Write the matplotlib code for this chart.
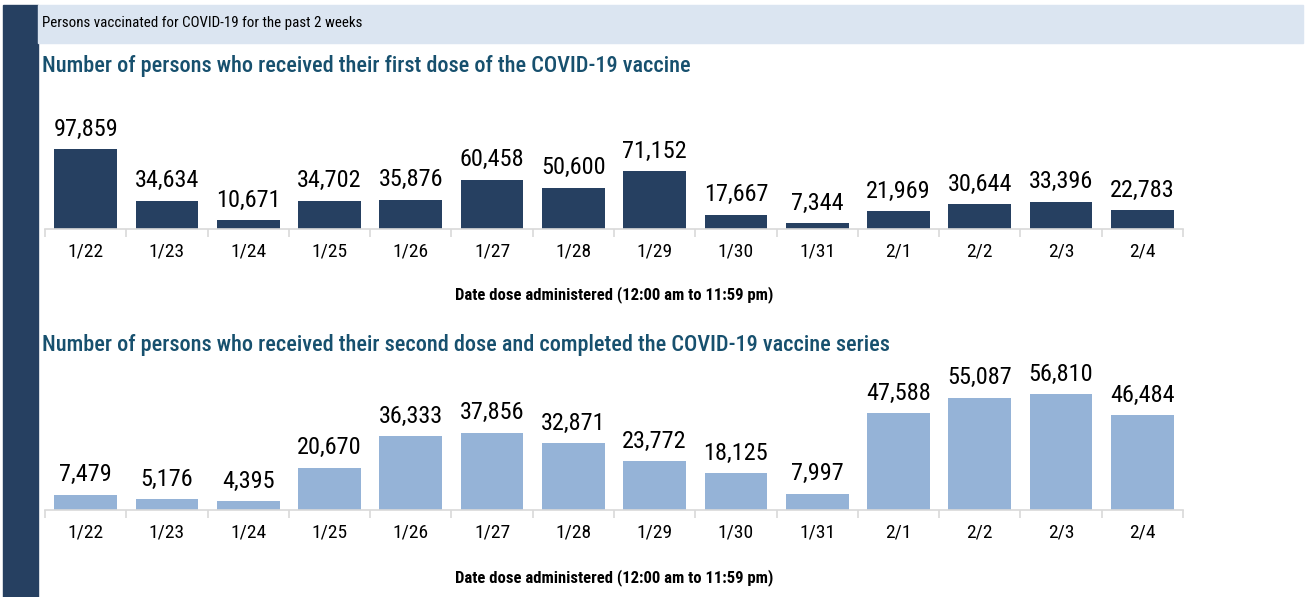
import matplotlib
matplotlib.use("Agg")
import matplotlib.pyplot as plt
from matplotlib import font_manager
from matplotlib.patches import Rectangle
import numpy as np

dates = ["1/22", "1/23", "1/24", "1/25", "1/26", "1/27", "1/28", "1/29",
         "1/30", "1/31", "2/1", "2/2", "2/3", "2/4"]
first_dose = [97859, 34634, 10671, 34702, 35876, 60458, 50600, 71152,
              17667, 7344, 21969, 30644, 33396, 22783]
second_dose = [7479, 5176, 4395, 20670, 36333, 37856, 32871, 23772,
               18125, 7997, 47588, 55087, 56810, 46484]

header = "Persons vaccinated for COVID-19 for the past 2 weeks"
title1 = "Number of persons who received their first dose of the COVID-19 vaccine"
title2 = "Number of persons who received their second dose and completed the COVID-19 vaccine series"
xlabel = "Date dose administered (12:00 am to 11:59 pm)"

names = {f.name for f in font_manager.fontManager.ttflist}
main_font = "DejaVu Sans"
for cand in ["Roboto Condensed", "Liberation Sans Narrow", "Liberation Sans", "Arimo"]:
    if cand in names:
        main_font = cand
        break
plt.rcParams['font.family'] = [main_font, 'DejaVu Sans']

W, H = 1307, 597
fig = plt.figure(figsize=(W / 100, H / 100), dpi=100)

def fx(px):
    return px / W

def fy(py):
    return 1 - py / H

# left navy band and header band
fig.patches.append(Rectangle((fx(3), 0), fx(35), fy(5), transform=fig.transFigure,
                             color="#264061", zorder=0))
fig.patches.append(Rectangle((fx(38), fy(43)), fx(1265), fy(5) - fy(43),
                             transform=fig.transFigure, color="#dbe5f1", zorder=0))
fig.text(fx(42), fy(23), header, fontsize=10.8, color="black", va="center", ha="left")
fig.text(fx(42), fy(66), title1, fontsize=16, fontweight="medium", color="#17506e",
         va="center", ha="left")
fig.text(fx(42), fy(345), title2, fontsize=16, fontweight="medium", color="#17506e",
         va="center", ha="left")


def draw(values, color, base_px, top_px, ymax, xlab_px):
    left, right = 45, 1183
    ax = fig.add_axes([fx(left), fy(base_px), fx(right - left), fy(top_px) - fy(base_px)])
    x = np.arange(len(dates))
    bars = ax.bar(x, values, width=0.77, color=color, zorder=2)
    ax.set_xlim(-0.5, len(dates) - 0.5)
    ax.set_ylim(0, ymax)
    for rect, v in zip(bars, values):
        ax.annotate(f"{v:,}", (rect.get_x() + rect.get_width() / 2, rect.get_height()),
                    xytext=(0, 6), textcoords="offset points", ha="center", va="bottom",
                    fontsize=17.5, color="black")
    for s in ["top", "right", "left"]:
        ax.spines[s].set_visible(False)
    ax.spines["bottom"].set_color("#d9d9d9")
    ax.spines["bottom"].set_linewidth(1.2)
    ax.set_yticks([])
    ax.set_xticks(x)
    ax.set_xticklabels(dates, fontsize=14)
    ax.tick_params(axis="x", which="major", length=0, pad=10)
    ax.set_xticks(np.arange(-0.5, len(dates)), minor=True)
    ax.tick_params(axis="x", which="minor", length=6, color="#d9d9d9", width=1.2)
    ax.patch.set_alpha(0)
    fig.text(fx((left + right) / 2), fy(xlab_px), xlabel, fontsize=12, fontweight="bold",
             ha="center", va="center")
    return ax

draw(first_dose, "#264061", 229, 100, 97859 * 129 / 80, 295)
draw(second_dose, "#95b3d7", 510, 370, 56810 * 140 / 116, 578)

fig.savefig("out.png", dpi=100)
